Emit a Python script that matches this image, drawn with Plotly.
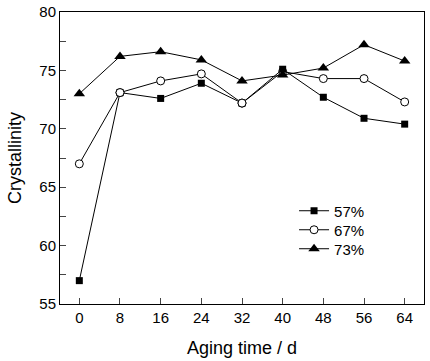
import plotly.graph_objects as go

days = [0, 8, 16, 24, 32, 40, 48, 56, 64]
s57 = [57.0, 73.1, 72.6, 73.9, 72.2, 75.1, 72.7, 70.9, 70.4]
s67 = [67.0, 73.1, 74.1, 74.7, 72.2, 74.9, 74.3, 74.3, 72.3]
s73 = [73.0, 76.2, 76.6, 75.9, 74.1, 74.6, 75.2, 77.2, 75.8]
names = ["57%", "67%", "73%"]

fig = go.Figure()
fig.add_trace(go.Scatter(x=days, y=s67, name=names[1], mode="lines+markers",
                         legend="legend2", showlegend=True,
                         line=dict(color="black", width=1),
                         marker=dict(symbol="circle", size=8, color="white",
                                     line=dict(color="black", width=1))))
fig.add_trace(go.Scatter(x=days, y=s57, name=names[0], mode="lines+markers",
                         legend="legend", showlegend=True,
                         line=dict(color="black", width=1),
                         marker=dict(symbol="square", size=7, color="black")))
fig.add_trace(go.Scatter(x=days, y=s73, name=names[2], mode="lines+markers",
                         legend="legend3", showlegend=True,
                         line=dict(color="black", width=1),
                         marker=dict(symbol="triangle-up", size=10, color="black")))
# redraw the circle markers where they sit on top of the squares (same data, markers only)
fig.add_trace(go.Scatter(x=days[1:5:3], y=s67[1:5:3], mode="markers", showlegend=False,
                         marker=dict(symbol="circle", size=8, color="white",
                                     line=dict(color="black", width=1))))

def leg(y):
    return dict(x=0.643, y=y, xanchor="left", yanchor="middle",
                bgcolor="rgba(0,0,0,0)", font=dict(size=15),
                itemwidth=30, tracegroupgap=0)

fig.update_layout(
    width=430, height=361,
    showlegend=True,
    margin=dict(l=60, r=6, t=12, b=57, autoexpand=False),
    paper_bgcolor="white", plot_bgcolor="white",
    font=dict(family="Liberation Sans, Arial", size=15, color="black"),
    legend=leg(0.3185), legend2=leg(0.2534), legend3=leg(0.1884),
    xaxis=dict(range=[-3.8, 67.8], tickvals=days, ticks="inside", ticklen=6,
               showline=True, linecolor="black", linewidth=1, mirror=True,
               showgrid=False, zeroline=False, automargin=False,
               title=dict(text="Aging time / d", standoff=16)),
    yaxis=dict(range=[55, 80], dtick=5, ticks="inside", ticklen=6,
               minor=dict(dtick=2.5, ticks="inside", ticklen=6, showgrid=False),
               showline=True, linecolor="black", linewidth=1, mirror=True,
               showgrid=False, zeroline=False, automargin=False,
               title=dict(text="Crystallinity", standoff=13)),
)
fig.write_html("out.html", config={"displayModeBar": False},
               post_script="document.body.style.margin='0';")
